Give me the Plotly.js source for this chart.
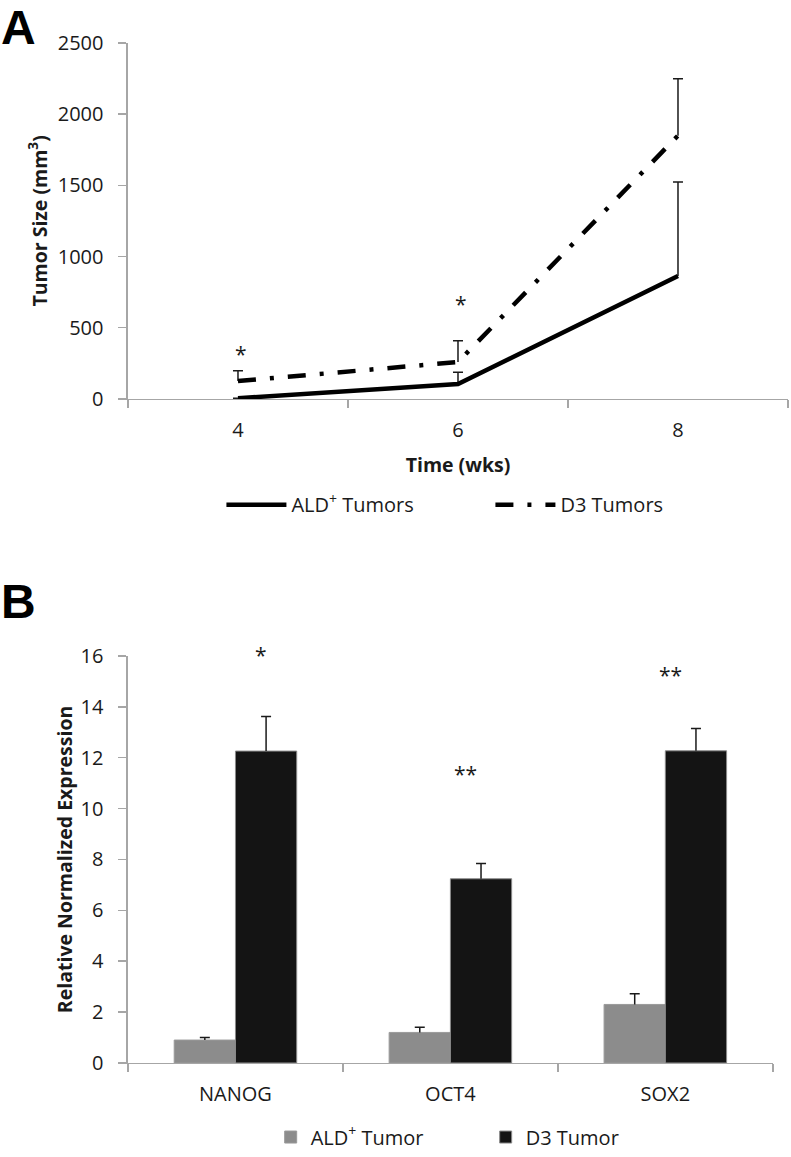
<!DOCTYPE html>
<html>
<head>
<meta charset="utf-8">
<script src="https://cdn.plot.ly/plotly-3.0.1.min.js"></script>
<style>html,body{margin:0;padding:0;background:#fff;}#chart{width:791px;height:1157px;}</style>
</head>
<body>
<div id="chart"></div>
<script>
// Panel A data
const weeks = ['4', '6', '8'];
const aldTumors = [5, 105, 863];
const aldTumorsErr = [0, 82, 660];
const d3Tumors = [126, 259, 1849];
const d3TumorsErr = [72, 150, 400];
const starsAIndex = [0, 1];
const starsAY = [336, 690];
const starsAText = ['*', '*'];

// Panel B data
const genes = ['NANOG', 'OCT4', 'SOX2'];
const aldExpr = [0.9, 1.2, 2.3];
const aldExprErr = [0.1, 0.2, 0.42];
const d3Expr = [12.26, 7.24, 12.27];
const d3ExprErr = [1.36, 0.6, 0.88];
const starsBY = [16, 11.5, 15.4];
const starsBText = ['*', '**', '**'];
const starsBShift = [26, 15, 5];
const starsBYShift = [1, -4, -4];

const FONT = 'Open Sans, sans-serif';
const AX = '#a6a6a6';

const errStyle = (arr) => ({type: 'data', symmetric: false, array: arr, arrayminus: arr.map(() => 0),
  color: '#1a1a1a', thickness: 1.5, width: 5});

const traces = [
  {
    type: 'scatter', mode: 'lines', x: weeks, y: aldTumors, name: 'ALD<sup>+</sup> Tumors',
    line: {color: '#000', width: 4.5},
    error_y: errStyle(aldTumorsErr),
    xaxis: 'x', yaxis: 'y', legend: 'legend'
  },
  {
    type: 'scatter', mode: 'lines', x: weeks, y: d3Tumors, name: 'D3 Tumors',
    line: {color: '#000', width: 4.5, dash: '18px,14px,4px,14px'},
    error_y: errStyle(d3TumorsErr),
    xaxis: 'x', yaxis: 'y', legend: 'legend'
  },
  {
    type: 'bar', x: genes, y: aldExpr, name: 'ALD<sup>+</sup> Tumor',
    marker: {color: '#8c8c8c', line: {color: '#9a9a9a', width: 1}},
    error_y: errStyle(aldExprErr),
    xaxis: 'x2', yaxis: 'y2', legend: 'legend2'
  },
  {
    type: 'bar', x: genes, y: d3Expr, name: 'D3 Tumor',
    marker: {color: '#141414', line: {color: '#8a8a8a', width: 1}},
    error_y: errStyle(d3ExprErr),
    xaxis: 'x2', yaxis: 'y2', legend: 'legend2'
  }
];

const tickFont = {family: FONT, size: 20, color: '#1a1a1a'};
const titleFont = {family: FONT, size: 19.5, color: '#1a1a1a', weight: 'bold'};

const annotations = [
  {text: '<b>A</b>', xref: 'paper', yref: 'paper', x: 0.0, y: 1.0, borderpad: 0, xanchor: 'left', yanchor: 'top', showarrow: false,
   font: {family: 'Liberation Sans, Arial, sans-serif', size: 48, color: '#000'}},
  {text: '<b>B</b>', xref: 'paper', yref: 'paper', x: 0.0, y: 0.503, borderpad: 0, xanchor: 'left', yanchor: 'top', showarrow: false,
   font: {family: 'Liberation Sans, Arial, sans-serif', size: 48, color: '#000'}}
];
starsAIndex.forEach((w, i) => annotations.push({
  text: starsAText[i], xref: 'x', yref: 'y', x: w, y: starsAY[i], xshift: 3, yshift: -3, showarrow: false,
  font: {family: FONT, size: 21, color: '#1a1a1a'}
}));
genes.forEach((g, i) => annotations.push({
  text: starsBText[i], xref: 'x2', yref: 'y2', x: i, y: starsBY[i], xshift: starsBShift[i], yshift: starsBYShift[i], showarrow: false,
  font: {family: FONT, size: 21, color: '#1a1a1a'}
}));

const axCommon = {
  showline: true, linecolor: AX, linewidth: 1.5, ticks: 'outside', ticklen: 8, tickcolor: AX, tickwidth: 1.5,
  showgrid: false, zeroline: false, tickfont: tickFont
};

const layout = {
  width: 791, height: 1157,
  margin: {l: 0, r: 0, t: 0, b: 0},
  paper_bgcolor: '#fff', plot_bgcolor: '#fff',
  showlegend: true,
  barmode: 'group', bargap: 0.43, bargroupgap: 0,
  xaxis: Object.assign({}, axCommon, {
    domain: [0.1618, 0.9962], anchor: 'y', type: 'category', range: [-0.5, 2.5], tickson: 'boundaries',
    ticklabelstandoff: 13,
    title: {text: 'Time (wks)', font: titleFont, standoff: 16}
  }),
  yaxis: Object.assign({}, axCommon, {
    domain: [0.6543, 0.9628], anchor: 'x', range: [0, 2500], dtick: 500, ticklabelstandoff: 11,
    title: {text: 'Tumor Size (mm<sup>3</sup>)', font: titleFont, standoff: 5}
  }),
  xaxis2: Object.assign({}, axCommon, {
    domain: [0.1618, 0.977], anchor: 'y2', type: 'category', range: [-0.5, 2.5], tickson: 'boundaries',
    ticklabelstandoff: 13
  }),
  yaxis2: Object.assign({}, axCommon, {
    domain: [0.0789, 0.4316], anchor: 'x2', range: [0, 16], dtick: 2, ticklabelstandoff: 11,
    title: {text: 'Relative Normalized Expression', font: titleFont, standoff: 3}
  }),
  legend: {
    orientation: 'h', x: 0.62, xanchor: 'center', y: 0.5627, yanchor: 'middle',
    font: {family: FONT, size: 20, color: '#1a1a1a'}, itemwidth: 60, entrywidth: 194, bgcolor: 'rgba(0,0,0,0)'
  },
  legend2: {
    orientation: 'h', x: 0.614, xanchor: 'center', y: 0.0147, yanchor: 'middle',
    font: {family: FONT, size: 20, color: '#1a1a1a'}, itemwidth: 30, entrywidth: 170, bgcolor: 'rgba(0,0,0,0)'
  },
  annotations: annotations
};

Plotly.newPlot('chart', traces, layout, {staticPlot: true, displayModeBar: false}).then(() => {
  // Excel-style "plus" error bars: remove the lower cap
  document.querySelectorAll('.errorbar path').forEach(p => {
    const d = p.getAttribute('d') || '';
    p.setAttribute('d', d.replace(/m-?[\d.]+,0h[\d.]+\s*$/, ''));
  });
});
</script>
</body>
</html>
